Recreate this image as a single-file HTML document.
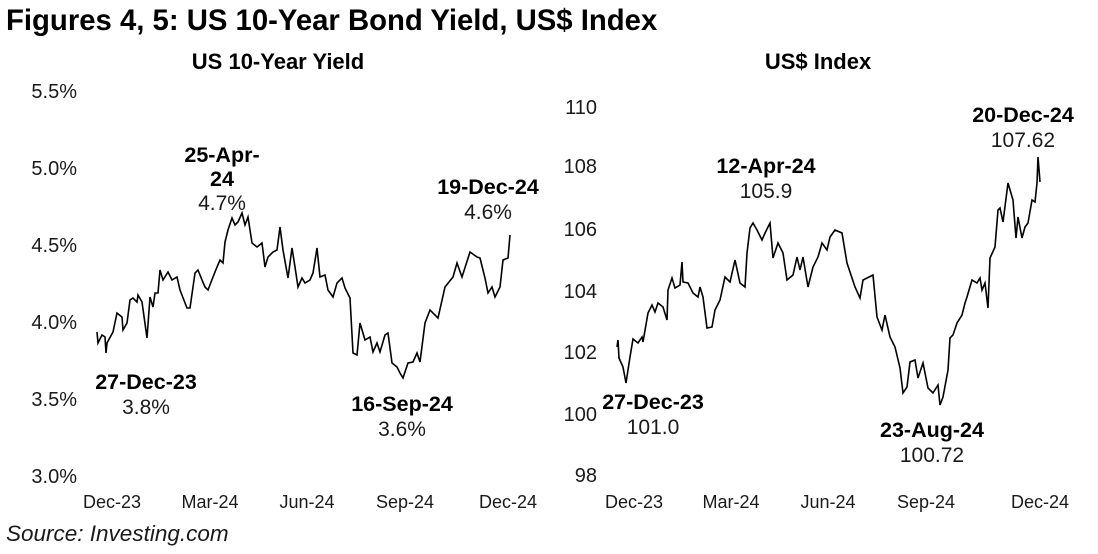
<!DOCTYPE html>
<html><head><style>
body{margin:0;background:#fff;}
svg{display:block;font-family:"Liberation Sans",Arial,sans-serif;}
.t{font-size:20px;fill:#1a1a1a}
.x{font-size:18px;fill:#1a1a1a}
.b{font-size:21.5px;font-weight:bold;fill:#000}
.v{font-size:21px;fill:#1a1a1a}
</style></head><body>
<svg width="1098" height="554" viewBox="0 0 1098 554">
<text x="6" y="30" font-size="29.3" font-weight="bold" fill="#000">Figures 4, 5: US 10-Year Bond Yield, US$ Index</text>
<text x="278" y="69" text-anchor="middle" font-size="22" font-weight="bold" fill="#000">US 10-Year Yield</text>
<text x="818" y="69" text-anchor="middle" font-size="22" font-weight="bold" fill="#000">US$ Index</text>
<g class="t" text-anchor="end">
<text x="77" y="98">5.5%</text><text x="77" y="175">5.0%</text><text x="77" y="252">4.5%</text>
<text x="77" y="329">4.0%</text><text x="77" y="406">3.5%</text><text x="77" y="483">3.0%</text>
<text x="597" y="114">110</text><text x="597" y="173">108</text><text x="597" y="236">106</text>
<text x="597" y="298">104</text><text x="597" y="359">102</text><text x="597" y="421">100</text><text x="597" y="482">98</text>
</g>
<g class="x" text-anchor="middle">
<text x="112" y="508">Dec-23</text><text x="210" y="508">Mar-24</text><text x="307" y="508">Jun-24</text><text x="405" y="508">Sep-24</text><text x="508" y="508">Dec-24</text>
<text x="634" y="508">Dec-23</text><text x="731" y="508">Mar-24</text><text x="828" y="508">Jun-24</text><text x="926" y="508">Sep-24</text><text x="1040" y="508">Dec-24</text>
</g>
<polyline fill="none" stroke="#000" stroke-width="1.6" points="97,332 98,343 102,335 105,337 106,353 107,343 113,332 117,313 122,317 123,330 127,323 130,300 133,298 137,302 138,295 142,302 147,338 150,297 153,307 155,293 158,293 160,270 163,280 168,272 172,280 177,277 180,290 187,308 190,308 195,273 198,270 202,280 205,287 208,290 213,277 217,267 220,260 223,263 225,242 228,230 232,218 235,225 238,222 242,213 245,225 248,217 252,243 257,247 262,243 265,267 268,257 273,252 277,250 280,227 283,250 288,278 292,248 295,267 298,287 302,278 305,283 310,280 313,273 317,248 320,277 325,275 328,290 333,297 337,283 342,278 345,288 350,298 353,353 357,355 360,323 365,340 370,337 373,352 377,343 380,352 385,335 388,333 392,363 397,367 400,373 403,378 408,363 413,362 417,353 420,362 425,323 430,310 438,318 445,287 453,277 457,263 462,277 470,252 477,257 480,258 485,278 488,293 492,287 495,297 500,287 503,260 508,258 510,235"/>
<polyline fill="none" stroke="#000" stroke-width="1.6" points="617,347 618,340 619,358 623,367 626,383 630,357 633,339 638,343 642,337 643,342 648,313 652,305 655,312 658,303 663,307 667,320 668,290 672,278 675,288 680,285 682,262 683,282 688,283 693,293 698,297 700,287 703,297 707,328 712,327 715,310 720,300 725,277 730,282 735,260 740,283 745,287 747,253 750,228 753,223 757,230 762,240 765,233 770,223 773,258 778,243 783,253 787,280 793,275 797,257 800,270 803,257 808,287 813,267 818,257 822,243 827,250 830,237 835,230 842,233 847,263 855,287 860,298 863,280 873,275 877,317 882,330 885,315 890,337 895,347 900,368 903,393 907,387 910,362 915,360 918,378 923,363 928,388 933,393 938,385 940,405 943,397 948,370 950,338 953,335 957,323 962,315 965,303 967,297 972,280 977,283 980,278 982,290 985,283 988,308 990,258 995,247 998,210 1000,208 1003,222 1008,183 1013,200 1016,238 1018,217 1022,238 1025,227 1028,223 1032,200 1035,202 1037,183 1038,157 1040,182"/>
<g text-anchor="middle">
<text x="222" y="162" class="b">25-Apr-</text><text x="222" y="186" class="b">24</text><text x="222" y="210" class="v">4.7%</text>
<text x="488" y="194" class="b">19-Dec-24</text><text x="488" y="219" class="v">4.6%</text>
<text x="146" y="389" class="b">27-Dec-23</text><text x="146" y="414" class="v">3.8%</text>
<text x="402" y="411" class="b">16-Sep-24</text><text x="402" y="436" class="v">3.6%</text>
<text x="766" y="173" class="b">12-Apr-24</text><text x="766" y="198" class="v">105.9</text>
<text x="1023" y="122" class="b">20-Dec-24</text><text x="1023" y="147" class="v">107.62</text>
<text x="653" y="409" class="b">27-Dec-23</text><text x="653" y="434" class="v">101.0</text>
<text x="932" y="437" class="b">23-Aug-24</text><text x="932" y="462" class="v">100.72</text>
</g>
<text x="6" y="541" font-size="22.5" font-style="italic" fill="#1a1a1a">Source: Investing.com</text>
</svg>
</body></html>
